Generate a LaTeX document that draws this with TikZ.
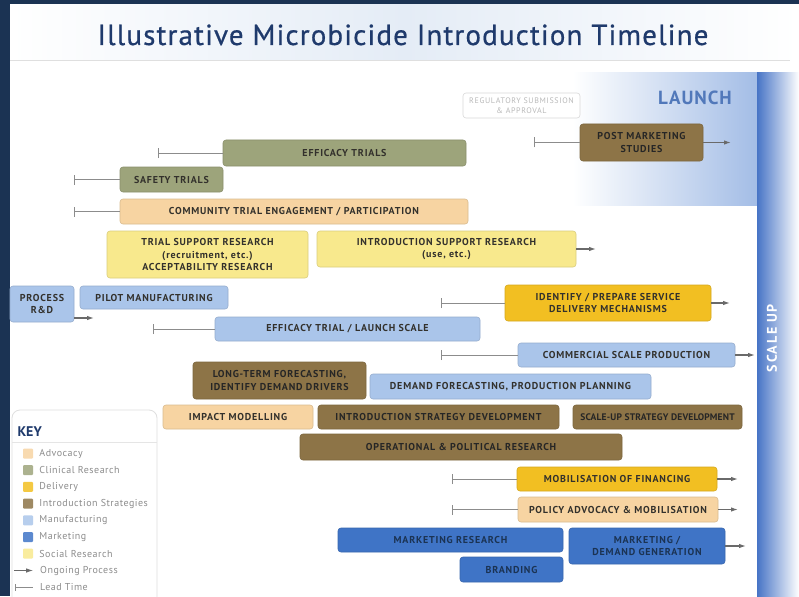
\documentclass[tikz,border=0pt]{standalone}
\usepackage{fontspec}
\setmainfont{PT Sans}
\usetikzlibrary{arrows.meta,positioning}
\definecolor{navy}{HTML}{1B3353}
\definecolor{titleblue}{HTML}{1F3A6C}
\definecolor{titleband}{HTML}{E4ECF6}
\definecolor{launchblue}{HTML}{A3BDE6}
\definecolor{launchtext}{HTML}{5178BA}
\definecolor{scaleblue}{HTML}{4774C6}
\definecolor{advocacyc}{HTML}{F7D4A2}
\definecolor{clinicalc}{HTML}{9DA47B}
\definecolor{deliveryc}{HTML}{F2BF22}
\definecolor{strategyc}{HTML}{8D7447}
\definecolor{manufactc}{HTML}{AAC5EA}
\definecolor{marketingc}{HTML}{3F74C6}
\definecolor{socialc}{HTML}{F8E98D}
\definecolor{textdark}{HTML}{33312C}
\definecolor{keygray}{HTML}{8C8C8C}
\definecolor{arrowgray}{HTML}{6A6A6A}

\begin{document}
\begin{tikzpicture}
    [x=1pt,y=-1pt,
    task/.style={rounded corners=3pt,draw,line width=0.6pt,inner sep=2pt,align=center,
      text=textdark,font=\fontsize{10}{12.5}\selectfont\bfseries\addfontfeature{LetterSpace=8}},
    advocacy/.style={task,fill=advocacyc,draw=advocacyc!88!black},
    clinical/.style={task,fill=clinicalc,draw=clinicalc!88!black},
    delivery/.style={task,fill=deliveryc,draw=deliveryc!88!black},
    strategy/.style={task,fill=strategyc,draw=strategyc!88!black,text=black!85},
    manufact/.style={task,fill=manufactc,draw=manufactc!88!black},
    marketing/.style={task,fill=marketingc,draw=marketingc!88!black,text=navy},
    social/.style={task,fill=socialc,draw=socialc!88!black},
    lead/.style={draw=keygray,line width=0.8pt,{Bar[width=10pt]}-},
    ongoing/.style={draw=arrowgray,line width=1.2pt,-{Latex[length=7pt,width=4.5pt]}},
    swatch/.style={minimum size=10pt,inner sep=0pt,rounded corners=1pt},
    keytext/.style={text=keygray,font=\fontsize{10}{11}\selectfont\addfontfeature{LetterSpace=5},
      anchor=west,inner sep=0pt}]

    \useasboundingbox (0,0) rectangle (799,596);
    \fill[navy] (0,0) rectangle (799,596);
    \fill[white] (10,5) rectangle (799,596);
    \shade[left color=white,right color=white,middle color=titleband] (10,5) rectangle (799,61);
    \draw[gray!25,line width=1pt] (10,61) -- (790,61);
    \node[anchor=base,text=titleblue,
      font=\fontsize{29}{31}\selectfont\addfontfeature{LetterSpace=4,FakeBold=0.6}] (title) at (403,45)
    {Illustrative Microbicide Introduction Timeline};

    % launch and scale up zones
    \shade[left color=white,right color=launchblue] (573,73) rectangle (757,205);
    \shade[left color=scaleblue,right color=white] (757,73) rectangle (799,596);
    \node[text=launchtext,font=\fontsize{19}{21}\selectfont\bfseries\addfontfeature{LetterSpace=5}]
    (launch) at (695,98) {LAUNCH};
    \node[rotate=90,text=white,font=\fontsize{14}{16}\selectfont\bfseries\addfontfeature{LetterSpace=12}]
    (scaleup) at (772,338) {SCALE UP};

    % clinical and advocacy rows
    \node[task,fill=white,draw=gray!30,text=gray!55,
      font=\fontsize{8}{9.5}\selectfont\addfontfeature{LetterSpace=8},
      minimum width=117pt,minimum height=25pt] (regulatory) at (521.5,105.5)
    {REGULATORY SUBMISSION\\\& APPROVAL};
    \node[strategy,minimum width=123pt,minimum height=37pt] (post) at (641.5,142.5)
    {POST MARKETING\\STUDIES};
    \node[clinical,minimum width=243pt,minimum height=26pt] (efficacy) at (344.5,153) {EFFICACY TRIALS};
    \node[clinical,minimum width=103pt,minimum height=25pt] (safety) at (171.5,179.5) {SAFETY TRIALS};
    \node[advocacy,minimum width=348pt,minimum height=25pt] (community) at (294,211.5)
    {COMMUNITY TRIAL ENGAGEMENT / PARTICIPATION};

    % social research
    \node[social,minimum width=201pt,minimum height=47pt] (trialsup) at (207.5,254.5)
    {TRIAL SUPPORT RESEARCH\\(recruitment, etc.)\\ACCEPTABILITY RESEARCH};
    \node[social,minimum width=259pt,minimum height=36pt] (introsup) at (446.5,249)
    {INTRODUCTION SUPPORT RESEARCH\\(use, etc.)};

    % manufacturing and delivery
    \node[manufact,minimum width=64pt,minimum height=36pt] (process) at (42,304) {PROCESS\\R\&D};
    \node[manufact,minimum width=148pt,minimum height=23pt] (pilot) at (154,297.5) {PILOT MANUFACTURING};
    \node[manufact,minimum width=265pt,minimum height=24pt] (launchscale) at (347.5,329)
    {EFFICACY TRIAL / LAUNCH SCALE};
    \node[delivery,minimum width=206pt,minimum height=36pt] (identify) at (608,303)
    {IDENTIFY / PREPARE SERVICE\\DELIVERY MECHANISMS};
    \node[manufact,minimum width=217pt,minimum height=24pt] (commercial) at (626.5,355)
    {COMMERCIAL SCALE PRODUCTION};

    % forecasting and strategies
    \node[strategy,minimum width=173pt,minimum height=37pt] (longterm) at (279.5,380.5)
    {LONG-TERM FORECASTING,\\IDENTIFY DEMAND DRIVERS};
    \node[manufact,minimum width=281pt,minimum height=25pt] (demand) at (510.5,386.5)
    {DEMAND FORECASTING, PRODUCTION PLANNING};
    \node[advocacy,minimum width=150pt,minimum height=24pt] (impact) at (238,417) {IMPACT MODELLING};
    \node[strategy,minimum width=241pt,minimum height=24pt] (introstrat) at (438.5,417)
    {INTRODUCTION STRATEGY DEVELOPMENT};
    \node[strategy,minimum width=169pt,minimum height=24pt,
      font=\fontsize{9.5}{11}\selectfont\bfseries\addfontfeature{LetterSpace=2}]
    (scalestrat) at (657.5,417) {SCALE-UP STRATEGY DEVELOPMENT};
    \node[strategy,minimum width=322pt,minimum height=26pt] (operational) at (461,447)
    {OPERATIONAL \& POLITICAL RESEARCH};

    % financing, policy and marketing
    \node[delivery,minimum width=200pt,minimum height=24pt] (financing) at (617,479)
    {MOBILISATION OF FINANCING};
    \node[advocacy,minimum width=200pt,minimum height=25pt] (policy) at (618,509.5)
    {POLICY ADVOCACY \& MOBILISATION};
    \node[marketing,minimum width=225pt,minimum height=24pt] (mktresearch) at (450.5,540) {MARKETING RESEARCH};
    \node[marketing,minimum width=156pt,minimum height=36pt] (mktdemand) at (647,546)
    {MARKETING /\\DEMAND GENERATION};
    \node[marketing,minimum width=103pt,minimum height=25pt] (branding) at (511.5,569.5) {BRANDING};

    % lead times
    \coordinate (postL) at (534,142.5);
    \coordinate (efficacyL) at (158,153);
    \coordinate (safetyL) at (74,179.5);
    \coordinate (communityL) at (74,211.5);
    \coordinate (launchscaleL) at (153,329);
    \coordinate (identifyL) at (441,303);
    \coordinate (commercialL) at (441,355);
    \coordinate (financingL) at (452,479);
    \coordinate (policyL) at (452,509.5);
    \foreach \task in {post,efficacy,safety,community,launchscale,identify,commercial,financing,policy}
      \draw[lead] (\task L) -- (\task.west);

    % ongoing processes
    \coordinate (postR) at (731,142.5);
    \coordinate (introsupR) at (596,249);
    \coordinate (identifyR) at (730,303);
    \coordinate (commercialR) at (755,355);
    \coordinate (financingR) at (738,479);
    \coordinate (policyR) at (738,509.5);
    \coordinate (mktdemandR) at (746,546);
    \foreach \task in {post,introsup,identify,commercial,financing,policy,mktdemand}
      \draw[ongoing] (\task.east) -- (\task R);
    \coordinate (processR) at (94,318);
    \draw[ongoing] (process.south east |- processR) -- (processR);

    % key
    \draw[gray!25,fill=white,rounded corners=8pt,line width=0.8pt] (12,410) rectangle (157,615);
    \node[anchor=west,text=titleblue,font=\fontsize{14}{16}\selectfont\bfseries] (keytitle) at (14,432) {KEY};
    \draw[gray!20,line width=0.8pt] (12,442) -- (157,442);
    \foreach \col/\lab [count=\i] in {advocacyc/Advocacy,clinicalc/Clinical Research,deliveryc/Delivery,
      strategyc/Introduction Strategies,manufactc/Manufacturing,marketingc/Marketing,socialc/Social Research}
    {
      \node[swatch,fill=\col!85] (key\i) at (28,{453.5+16.7*(\i-1)}) {};
      \node[keytext,right=6pt of key\i] (keytext\i) {\lab};
    }
    \coordinate (ongoingA) at (14,570.5);
    \coordinate (ongoingB) at (33,570.5);
    \draw[ongoing,line width=0.8pt] (ongoingA) -- (ongoingB);
    \node[keytext] (ongoingtext) at (40,570.5) {Ongoing Process};
    \coordinate (leadA) at (15,587);
    \coordinate (leadB) at (33,587);
    \draw[lead,{Bar[width=7pt]}-] (leadA) -- (leadB);
    \node[keytext] (leadtext) at (40,587) {Lead Time};
  \end{tikzpicture}
\end{document}
